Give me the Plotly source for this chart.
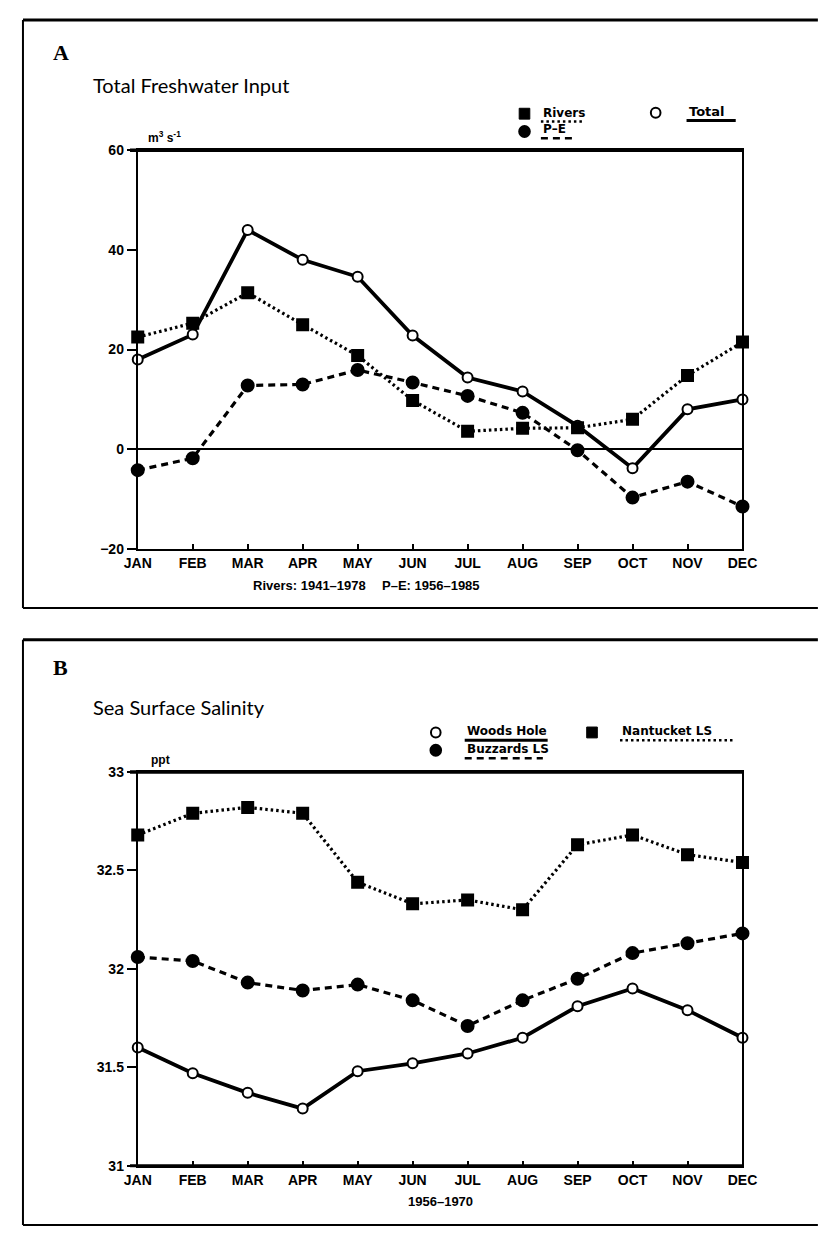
import plotly.graph_objects as go

# The page body has an 8px default margin, so the figure is sized to fit inside it
PAD = 8
W, H = 833 - 2 * PAD, 1235 - 2 * PAD

months = ["JAN", "FEB", "MAR", "APR", "MAY", "JUN", "JUL", "AUG", "SEP", "OCT", "NOV", "DEC"]

# Panel A: Total Freshwater Input (m3 s-1)
rivers = [22.5, 25.3, 31.4, 25.0, 18.8, 9.8, 3.6, 4.2, 4.3, 6.0, 14.8, 21.5]
total = [18.0, 23.0, 44.0, 38.0, 34.6, 22.8, 14.4, 11.6, 4.7, -3.8, 8.0, 10.0]
p_minus_e = [-4.2, -1.8, 12.8, 13.0, 15.9, 13.4, 10.7, 7.3, -0.2, -9.7, -6.5, -11.5]
a_ticks = [-20, 0, 20, 40, 60]

# Panel B: Sea Surface Salinity (ppt)
woods_hole = [31.60, 31.47, 31.37, 31.29, 31.48, 31.52, 31.57, 31.65, 31.81, 31.90, 31.79, 31.65]
buzzards = [32.06, 32.04, 31.93, 31.89, 31.92, 31.84, 31.71, 31.84, 31.95, 32.08, 32.13, 32.18]
nantucket = [32.68, 32.79, 32.82, 32.79, 32.44, 32.33, 32.35, 32.30, 32.63, 32.68, 32.58, 32.54]
b_ticks = [31, 31.5, 32, 32.5, 33]
b_ticktext = ["31", "31.5", "32", "32.5", "33"]


def X(px):
    return (px - PAD) / W


def Y(py):
    return 1 - (py - PAD) / H


DOT = "2.5px,3px"
DASH = "7px,5px"

fig = go.Figure()

LINE_W = 3.2


def add_series(xa, ya, y, style):
    dash, symbol, fillc, msize, lw = style
    fig.add_trace(go.Scatter(
        x=months, y=y, xaxis=xa, yaxis=ya, mode="lines+markers",
        line=dict(color="black", width=lw, dash=dash),
        marker=dict(symbol=symbol, size=msize, color=fillc,
                    line=dict(color="black", width=2)),
        showlegend=False, cliponaxis=False,
    ))


# Panel A traces
add_series("x", "y", total, ("solid", "circle", "white", 10, 3.8))
add_series("x", "y", p_minus_e, (DASH, "circle", "black", 12, LINE_W))
add_series("x", "y", rivers, (DOT, "square", "black", 11, LINE_W))
# Panel B traces
add_series("x2", "y2", buzzards, (DASH, "circle", "black", 12, LINE_W))
add_series("x2", "y2", nantucket, (DOT, "square", "black", 11, LINE_W))
add_series("x2", "y2", woods_hole, ("solid", "circle", "white", 10, 3.8))

tickfont = dict(family="Liberation Sans", size=14, color="black", weight="bold")

xdom = [X(128), X(755)]
common_x = dict(domain=xdom, type="category", range=[0, 11], showgrid=False,
                showline=True, linecolor="black", linewidth=2, mirror=True,
                ticks="inside", ticklen=5, tickwidth=1.5, tickcolor="black",
                tickfont=tickfont, zeroline=False)
common_y = dict(showgrid=False, showline=True, linecolor="black", linewidth=2,
                mirror=True, ticks="outside", ticklen=9, tickwidth=2,
                tickcolor="black", tickfont=tickfont)

fig.update_layout(
    width=W, height=H, margin=dict(l=0, r=0, t=0, b=0),
    paper_bgcolor="white", plot_bgcolor="white",
    xaxis=dict(common_x, anchor="y"),
    yaxis=dict(common_y, domain=[Y(548), Y(144)], range=[-20, 60],
               tickvals=a_ticks, zeroline=True, zerolinecolor="black",
               zerolinewidth=2, anchor="x"),
    xaxis2=dict(common_x, anchor="y2"),
    yaxis2=dict(common_y, domain=[Y(1173), Y(774)], range=[31, 33],
                tickvals=b_ticks, ticktext=b_ticktext, zeroline=False,
                anchor="x2"),
)

shapes = []
# panel frames
for top, bot in [(12, 608), (640, 1233)]:
    shapes.append(dict(type="line", xref="paper", yref="paper", x0=X(9), x1=1.01,
                       y0=Y(top), y1=Y(top), line=dict(color="black", width=3)))
    shapes.append(dict(type="line", xref="paper", yref="paper", x0=X(9), x1=1.01,
                       y0=Y(bot), y1=Y(bot), line=dict(color="black", width=2)))
    shapes.append(dict(type="line", xref="paper", yref="paper", x0=X(9), x1=X(9),
                       y0=Y(top), y1=Y(bot), line=dict(color="black", width=2)))
# thick top border of plots, thicker bottom border of panel B
for py in (144, 774):
    shapes.append(dict(type="line", xref="paper", yref="paper", x0=X(120), x1=X(756),
                       y0=Y(py), y1=Y(py), line=dict(color="black", width=3.5)))
shapes.append(dict(type="line", xref="paper", yref="paper", x0=X(120), x1=X(756),
                   y0=Y(1173), y1=Y(1173), line=dict(color="black", width=3)))

annotations = []


def txt(s, x, y, size=12, bold=True, family="Liberation Sans", xanchor="left", yanchor="middle"):
    annotations.append(dict(text=s, x=X(x), y=Y(y), xref="paper", yref="paper",
                            showarrow=False, xanchor=xanchor, yanchor=yanchor,
                            font=dict(family=family, size=size, color="black",
                                      weight="bold" if bold else "normal")))


def marker_shape(kind, cx, cy, r=5.5):
    if kind == "square":
        shapes.append(dict(type="rect", xref="paper", yref="paper",
                           x0=X(cx - r), x1=X(cx + r), y0=Y(cy - r), y1=Y(cy + r),
                           fillcolor="black", line=dict(color="black", width=1)))
    else:
        shapes.append(dict(type="circle", xref="paper", yref="paper",
                           x0=X(cx - r), x1=X(cx + r), y0=Y(cy - r), y1=Y(cy + r),
                           fillcolor="black" if kind == "filled" else "white",
                           line=dict(color="black", width=2)))


def underline(x0, x1, y, dash, width):
    shapes.append(dict(type="line", xref="paper", yref="paper", x0=X(x0), x1=X(x1),
                       y0=Y(y), y1=Y(y), line=dict(color="black", width=width, dash=dash)))


# Panel letters and titles
txt("A", 38, 45, size=22, family="Liberation Serif")
txt("Total Freshwater Input", 80, 78, size=20, bold=False, family="Lato")
txt("B", 38, 668, size=22, family="Liberation Serif")
txt("Sea Surface Salinity", 80, 708, size=20, bold=False, family="Lato")

# Units
txt("m<sup>3</sup> s<sup>-1</sup>", 137, 131, size=12)
txt("ppt", 140, 762, size=12)

# Legend A
marker_shape("square", 529, 107)
txt("Rivers", 546, 106, size=12, family="DejaVu Sans")
underline(546, 590, 115, DOT, 2.5)
marker_shape("open", 665, 106, r=5)
txt("Total", 697, 105, size=13, family="DejaVu Sans")
underline(697, 748, 114, "solid", 3)
marker_shape("filled", 529, 125)
txt("P–E", 546, 123, size=12, family="DejaVu Sans")
underline(546, 582, 132, DASH, 2.5)

# Legend B
marker_shape("open", 437, 734, r=5)
txt("Woods Hole", 467, 733, size=12, family="DejaVu Sans")
underline(467, 553, 742, "solid", 3)
marker_shape("square", 599, 734)
txt("Nantucket LS", 628, 733, size=12, family="DejaVu Sans")
underline(628, 747, 742, DOT, 2.5)
marker_shape("filled", 437, 752)
txt("Buzzards LS", 467, 751, size=12, family="DejaVu Sans")
underline(467, 548, 760, DASH, 2.5)

# Captions
txt("Rivers: 1941–1978", 306, 585, size=13, xanchor="center")
txt("P–E: 1956–1985", 432, 585, size=13, xanchor="center")
txt("1956–1970", 442, 1209, size=13, xanchor="center")

fig.update_layout(shapes=shapes, annotations=annotations)
fig.write_html("out.html")
